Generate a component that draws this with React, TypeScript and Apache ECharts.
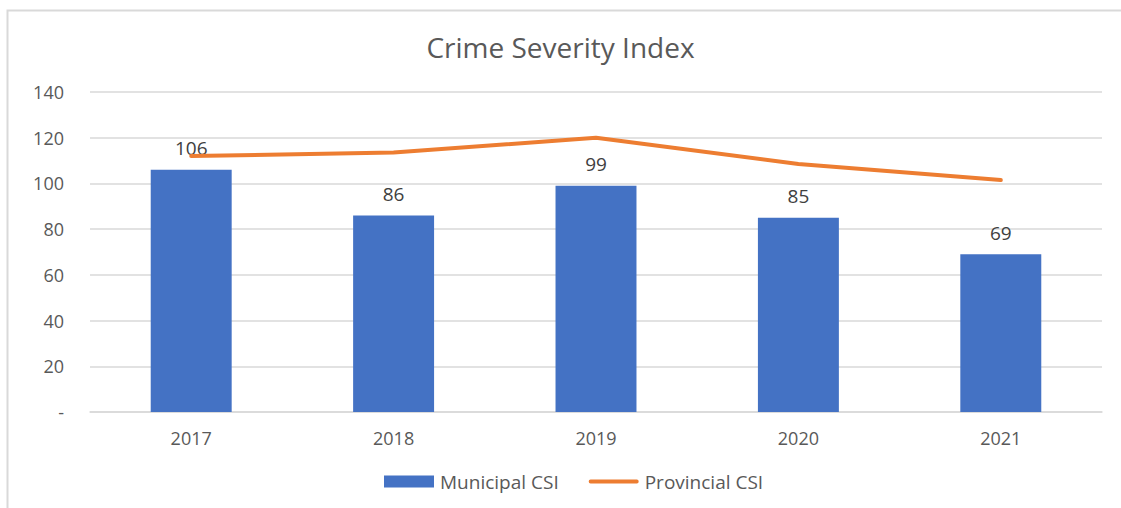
import React, { useEffect, useRef } from "react";
import * as echarts from "echarts";

const categories = ["2017", "2018", "2019", "2020", "2021"];
const municipalCSI = [106, 86, 99, 85, 69];
const provincialCSI = [112, 113.5, 120, 108.5, 101.5];

const FONT = "'Open Sans', 'Noto Sans', sans-serif";
const GRAY = "#595959";

export default function App() {
  const ref = useRef<HTMLDivElement>(null);
  useEffect(() => {
    if (!ref.current) return;
    const chart = echarts.init(ref.current, undefined, { renderer: "svg" });
    chart.setOption({
      animation: false,
      backgroundColor: "#ffffff",
      title: {
        text: "Crime Severity Index",
        left: "center",
        top: 28,
        textStyle: { fontFamily: FONT, fontSize: 28, fontWeight: "normal", color: GRAY },
      },
      graphic: [
        {
          type: "polyline",
          shape: { points: [[7.5, 520], [7.5, 10.5], [1125, 10.5]] },
          style: { stroke: "#d9d9d9", lineWidth: 2, fill: "none" },
          silent: true,
        },
      ],
      legend: {
        top: 467,
        left: 379,
        itemGap: 30,
        itemWidth: 50,
        itemHeight: 12,
        textStyle: { fontFamily: FONT, fontSize: 19, color: GRAY, padding: [0, 0, 0, 1] },
        data: [
          { name: "Municipal CSI", icon: "rect" },
          {
            name: "Provincial CSI",
            icon: "path://M2,0 H51 A2,2 0 0 1 51,4 H2 A2,2 0 0 1 2,0 Z",
          },
        ],
      },
      grid: { left: 90, right: 19, top: 92, bottom: 96 },
      xAxis: {
        type: "category",
        data: categories,
        axisTick: { show: false },
        axisLine: { lineStyle: { color: "#d9d9d9", width: 1.5 } },
        axisLabel: { fontFamily: FONT, fontSize: 18, color: GRAY, margin: 17 },
      },
      yAxis: {
        type: "value",
        min: 0,
        max: 140,
        interval: 20,
        axisLine: { show: false },
        axisTick: { show: false },
        splitLine: { lineStyle: { color: "#d9d9d9", width: 1.5 } },
        axisLabel: {
          fontFamily: FONT,
          fontSize: 18,
          color: GRAY,
          margin: 26,
          formatter: (v: number) => (v === 0 ? "-" : String(v)),
        },
      },
      series: [
        {
          name: "Municipal CSI",
          type: "bar",
          data: municipalCSI,
          barWidth: "40%",
          itemStyle: { color: "#4472C4" },
          label: {
            show: true,
            position: "top",
            distance: 12,
            fontFamily: FONT,
            fontSize: 19,
            color: "#404040",
          },
        },
        {
          name: "Provincial CSI",
          type: "line",
          data: provincialCSI,
          symbol: "none",
          showSymbol: false,
          lineStyle: { color: "#ED7D31", width: 4, cap: "round" },
          itemStyle: { color: "#ED7D31" },
        },
      ],
    });
    return () => chart.dispose();
  }, []);
  return (
    <div
      ref={ref}
      style={{ position: "fixed", left: 0, top: 0, width: 1121, height: 508 }}
    />
  );
}
